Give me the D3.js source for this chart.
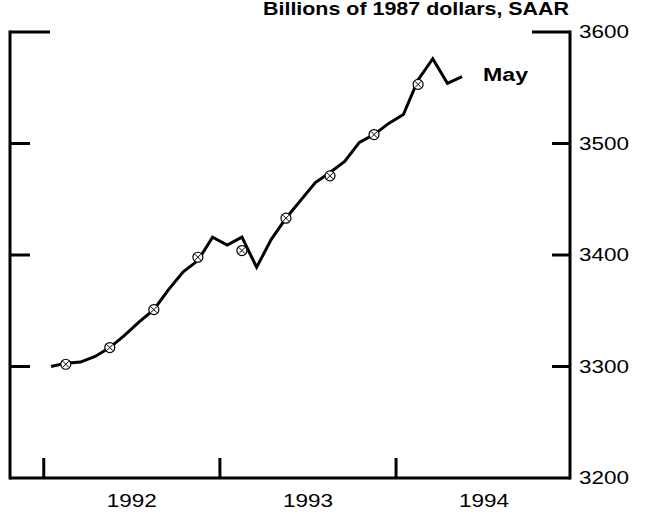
<!DOCTYPE html>
<html>
<head>
<meta charset="utf-8">
<script src="https://cdn.jsdelivr.net/npm/d3@7"></script>
<style>
  body { margin: 0; background: #fff; }
  text { font-family: "Liberation Sans", Arial, sans-serif; fill: #000; }
</style>
</head>
<body>
<div id="chart"></div>
<script>
// monthly values, Jan 1992 .. May 1994 (billions of 1987 dollars, SAAR)
var monthly = [3300, 3303, 3304, 3309, 3317, 3328, 3340, 3351, 3369, 3385, 3395, 3416,
               3409, 3416, 3389, 3414, 3433, 3449, 3465, 3474, 3484, 3501, 3508, 3518,
               3526, 3557, 3576, 3554, 3560];
// quarterly averages, 1992Q1 .. 1994Q1
var quarterly = [3302, 3317, 3351, 3398, 3404, 3433, 3471, 3508, 3553];
var years = ['1992', '1993', '1994'];
var yTicks = [3200, 3300, 3400, 3500, 3600];
var title = 'Billions of 1987 dollars, SAAR';
var lastLabel = 'May';

function main(){
    var W = 658, H = 516;
    var left = 10, right = 570, top = 32, bottom = 478;

    var svg = d3.select('#chart').append('svg')
                .attr('width', W)
                .attr('height', H);

    // months counted from Jan 1992
    var x = d3.scaleLinear().domain([-2.3, 35.85]).range([left, right]);
    var y = d3.scaleLinear().domain([3200, 3600]).range([bottom, top]);

    var ink = svg.append('g')
                 .attr('stroke', '#000')
                 .attr('stroke-width', 3)
                 .attr('fill', 'none');

    // frame: sides, bottom, top corners
    ink.append('line').attr('x1', left).attr('x2', left).attr('y1', top - 1.5).attr('y2', bottom + 1.5);
    ink.append('line').attr('x1', right).attr('x2', right).attr('y1', top - 1.5).attr('y2', bottom + 1.5);
    ink.append('line').attr('x1', left).attr('x2', right).attr('y1', bottom).attr('y2', bottom);
    ink.append('line').attr('x1', left).attr('x2', left + 40).attr('y1', top).attr('y2', top);
    ink.append('line').attr('x1', right - 38).attr('x2', right).attr('y1', top).attr('y2', top);

    // inner ticks on both sides
    var inner = [3300, 3400, 3500];
    ink.selectAll('.tl').data(inner).enter().append('line')
       .attr('x1', left).attr('x2', left + 20)
       .attr('y1', function(d){ return y(d); }).attr('y2', function(d){ return y(d); });
    ink.selectAll('.tr').data(inner).enter().append('line')
       .attr('x1', right - 18).attr('x2', right)
       .attr('y1', function(d){ return y(d); }).attr('y2', function(d){ return y(d); });

    // year boundary ticks
    ink.selectAll('.ty').data(years).enter().append('line')
       .attr('x1', function(d, i){ return x(i * 12); })
       .attr('x2', function(d, i){ return x(i * 12); })
       .attr('y1', bottom).attr('y2', bottom - 20);

    // right axis labels
    var yAxis = svg.append('g')
                   .attr('transform', 'translate(' + right + ',0)')
                   .call(d3.axisRight(y).tickValues(yTicks).tickSize(0).tickPadding(9)
                           .tickFormat(d3.format('d')));
    yAxis.select('.domain').remove();
    yAxis.selectAll('text')
         .attr('font-size', 18)
         .attr('textLength', 50)
         .attr('lengthAdjust', 'spacingAndGlyphs')
         .style('font-family', '"Liberation Sans", Arial, sans-serif');

    // year labels, centred in each year
    svg.selectAll('.yl').data(years).enter().append('text')
       .attr('x', function(d, i){ return x(i * 12 + 6); })
       .attr('y', 507)
       .attr('text-anchor', 'middle')
       .attr('font-size', 18)
       .attr('textLength', 50)
       .attr('lengthAdjust', 'spacingAndGlyphs')
       .text(function(d){ return d; });

    // monthly line
    var line = d3.line()
                 .x(function(d, i){ return x(i + 0.5); })
                 .y(function(d){ return y(d); });
    svg.append('path')
       .datum(monthly)
       .attr('d', line)
       .attr('fill', 'none')
       .attr('stroke', '#000')
       .attr('stroke-width', 3)
       .attr('stroke-linejoin', 'miter');

    // quarterly markers
    var mk = svg.selectAll('.mk').data(quarterly).enter().append('g')
                .attr('transform', function(d, i){
                    return 'translate(' + x(i * 3 + 1.5) + ',' + y(d) + ')';
                });
    mk.append('circle').attr('r', 5).attr('fill', '#fff')
      .attr('stroke', '#000').attr('stroke-width', 1.2);
    mk.append('path').attr('d', 'M-3,-3L3,3M-3,3L3,-3')
      .attr('stroke', '#000').attr('stroke-width', 1);

    // labels
    svg.append('text')
       .attr('x', 263).attr('y', 15)
       .attr('font-size', 18).attr('font-weight', 'bold')
       .attr('textLength', 306)
       .attr('lengthAdjust', 'spacingAndGlyphs')
       .text(title);
    svg.append('text')
       .attr('x', 483).attr('y', 81)
       .attr('font-size', 19).attr('font-weight', 'bold')
       .attr('textLength', 45)
       .attr('lengthAdjust', 'spacingAndGlyphs')
       .text(lastLabel);
}

main();
</script>
</body>
</html>
